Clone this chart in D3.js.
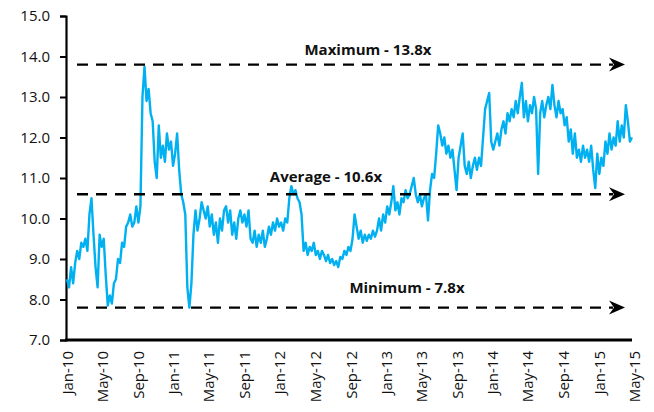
<!DOCTYPE html>
<html>

<head>
  <title>Forward P/E</title>
  <script src="https://cdn.jsdelivr.net/npm/d3@7"></script>
  <style>
    body { margin: 0; background: #fff; }
    text { font-family: 'Open Sans', sans-serif; fill: #111; }
  </style>
</head>

<body>
  <svg width="654" height="412" id="mainsvg"></svg>
  <script>
    // weekly readings starting Jan 1 2010
    const startDate = new Date(2010, 0, 1);
    const values = [
      8.5, 8.3, 8.8, 8.4, 8.9, 9.2, 9.0, 9.4, 9.3, 9.5, 9.2, 10.1, 10.5, 9.6, 8.8, 8.3, 9.6, 9.3, 9.5, 8.6,
      7.85, 8.1, 7.9, 8.4, 8.5, 9.0, 8.9, 9.4, 9.3, 9.8, 9.9, 10.1, 9.8, 9.9, 10.3, 9.9, 10.3, 13.0, 13.75, 12.9,
      13.2, 12.6, 12.4, 11.4, 11.0, 12.3, 11.5, 11.8, 11.4, 12.1, 11.7, 11.9, 11.3, 11.6, 12.1, 11.2, 10.6, 10.4, 10.1, 8.3,
      7.8, 8.4, 9.6, 10.2, 9.7, 10.0, 10.4, 10.2, 10.0, 10.3, 9.8, 10.1, 9.6, 9.9, 9.4, 10.0, 9.7, 10.2, 10.3, 9.9,
      10.2, 9.6, 9.9, 9.5, 10.0, 10.2, 9.9, 10.1, 9.8, 10.2, 9.5, 9.4, 9.7, 9.3, 9.6, 9.4, 9.7, 9.3, 9.5, 9.8,
      9.6, 9.9, 9.7, 10.0, 9.8, 9.9, 9.7, 10.0, 9.9, 10.5, 10.8, 10.6, 10.7, 10.5, 10.4, 10.1, 9.2, 9.4, 9.1, 9.3,
      9.2, 9.4, 9.1, 9.2, 9.0, 9.2, 9.1, 8.95, 9.1, 8.9, 9.0, 8.85, 8.95, 8.8, 9.05, 9.0, 9.2, 9.1, 9.3, 9.2,
      9.5, 10.1, 9.8, 9.5, 9.7, 9.4, 9.6, 9.45, 9.6, 9.5, 9.7, 9.55, 9.7, 10.0, 9.7, 10.1, 9.9, 10.3, 10.1, 10.4,
      10.8, 10.2, 10.4, 10.1, 10.5, 10.4, 10.7, 10.5, 10.6, 10.8, 11.0, 10.6, 10.4, 10.6, 10.3, 10.5, 10.6, 9.95, 10.7, 11.1,
      11.0, 11.6, 12.3, 12.1, 11.8, 12.0, 11.6, 11.8, 11.5, 11.7, 11.2, 10.7, 11.5, 11.8, 12.1, 11.3, 11.1, 11.4, 11.0, 11.3,
      11.5, 11.2, 11.5, 11.3, 12.0, 12.7, 12.9, 13.1, 11.9, 11.7, 11.9, 12.1, 11.8, 12.2, 12.4, 12.1, 12.6, 12.4, 12.7, 12.5,
      12.9, 12.6, 13.0, 13.35, 12.5, 12.9, 12.4, 12.8, 12.6, 13.0, 12.7, 11.1, 12.6, 12.9, 12.5, 12.8, 13.0, 12.7, 13.3, 12.8,
      12.5, 12.9, 12.6, 12.7, 12.3, 12.5, 11.9, 12.2, 11.6, 12.1, 11.5, 11.7, 11.4, 11.8, 11.5, 11.7, 11.4, 11.8, 11.2, 10.75,
      11.6, 11.1, 11.5, 11.3, 11.9, 11.6, 12.1, 11.7, 12.0, 11.8, 12.4, 11.9, 12.3, 12.0, 12.8, 12.4, 11.9, 12.0
    ];
    const yTicks = [7, 8, 9, 10, 11, 12, 13, 14, 15];
    const levelNames = ['Maximum', 'Average', 'Minimum'];
    const levelValues = [13.8, 10.6, 7.8];

    const svg = d3.select('#mainsvg');
    const data = values.map((v, i) => ({ date: d3.timeDay.offset(startDate, i * 7), value: v }));

    const xScale = d3.scaleTime()
      .domain([new Date(2010, 0, 1), new Date(2015, 4, 1)])
      .range([67, 634]);
    const yScale = d3.scaleLinear()
      .domain([7, 15])
      .range([340, 16]);

    // y axis
    const yAxis = d3.axisLeft(yScale)
      .tickValues(yTicks)
      .tickFormat(d3.format('.1f'))
      .tickSize(6)
      .tickPadding(10);
    const yAxisGroup = svg.append('g')
      .attr('transform', 'translate(66, 0)')
      .call(yAxis);
    yAxisGroup.selectAll('.domain').attr('stroke', '#000').attr('stroke-width', 2.2);
    yAxisGroup.selectAll('.tick line').attr('stroke', '#000').attr('stroke-width', 2);
    yAxisGroup.selectAll('text').attr('font-size', 15).attr('font-family', 'Open Sans').attr('fill', '#111');

    // x axis, labels turned up
    const xAxis = d3.axisBottom(xScale)
      .ticks(d3.timeMonth.every(4))
      .tickFormat(d3.timeFormat('%b-%y'))
      .tickSize(0)
      .tickSizeOuter(0);
    const xAxisGroup = svg.append('g')
      .attr('transform', 'translate(0, 340)')
      .call(xAxis);
    xAxisGroup.select('.domain').attr('stroke', '#000').attr('stroke-width', 2.8)
      .attr('d', 'M65,0H632');
    xAxisGroup.selectAll('text')
      .attr('font-size', 15)
      .attr('font-family', 'Open Sans')
      .attr('fill', '#111')
      .attr('text-anchor', 'end')
      .attr('transform', 'rotate(-90)')
      .attr('x', -11)
      .attr('y', 0)
      .attr('dy', '0.35em');

    // the series
    const line = d3.line()
      .x(d => xScale(d.date))
      .y(d => yScale(d.value));
    svg.append('path')
      .datum(data)
      .attr('d', line)
      .attr('fill', 'none')
      .attr('stroke', '#00B0F0')
      .attr('stroke-width', 2.4)
      .attr('stroke-linejoin', 'round');

    // reference levels with arrows
    const labelX = [368, 326, 407];
    const labelOffset = [10, 12, 15];
    const lineStart = 77;
    const arrowTip = 625;
    levelValues.forEach((v, i) => {
      const y = yScale(v);
      svg.append('line')
        .attr('x1', lineStart).attr('x2', arrowTip - 12)
        .attr('y1', y).attr('y2', y)
        .attr('stroke', '#000')
        .attr('stroke-width', 2.4)
        .attr('stroke-dasharray', '11,8');
      svg.append('path')
        .attr('d', `M${arrowTip},${y}L${arrowTip - 16},${y - 7}L${arrowTip - 11},${y}L${arrowTip - 16},${y + 7}Z`)
        .attr('fill', '#000');
      svg.append('text')
        .attr('x', labelX[i])
        .attr('y', y - labelOffset[i])
        .attr('text-anchor', 'middle')
        .attr('font-size', 15)
        .attr('font-weight', 'bold')
        .text(`${levelNames[i]} - ${v.toFixed(1)}x`);
    });
  </script>
</body>

</html>
